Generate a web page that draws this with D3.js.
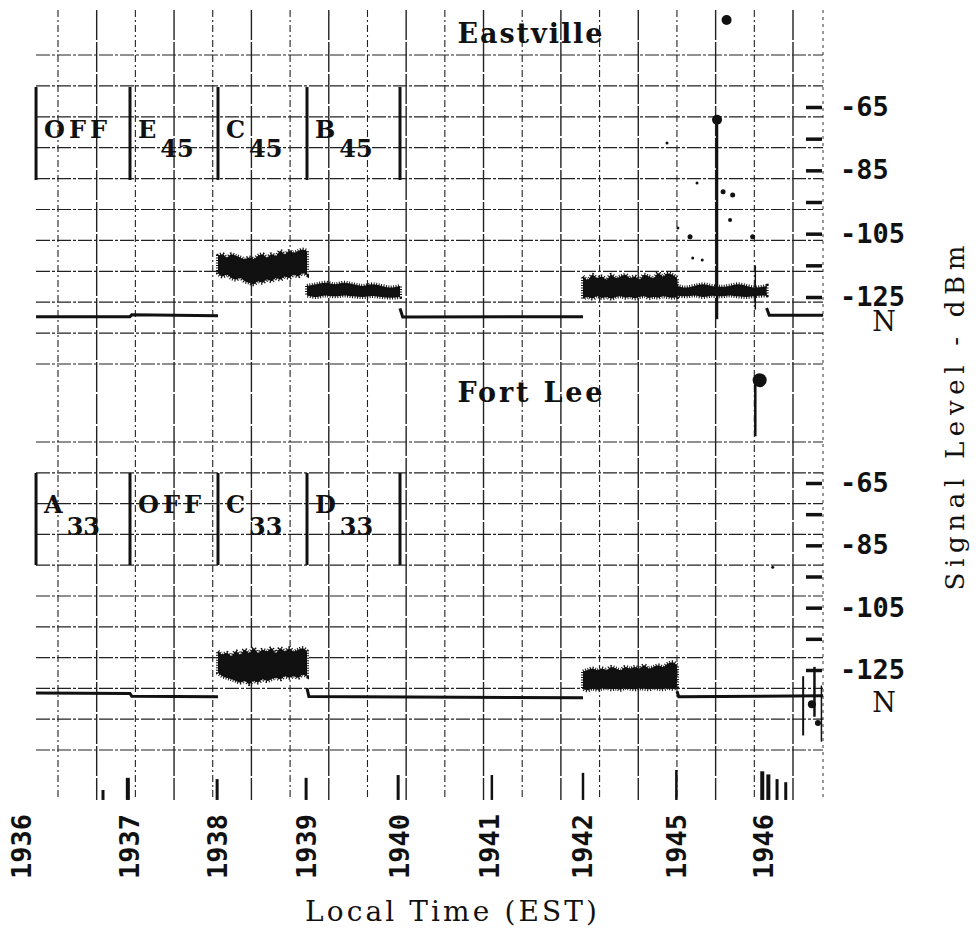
<!DOCTYPE html>
<html>
<head>
<meta charset="utf-8">
<script src="https://d3js.org/d3.v7.min.js"></script>
<style>
  body { margin: 0; background: #fff; }
</style>
</head>
<body>
<div id="chart"></div>
<script>
// time ticks along the bottom (local time, EST) and level ticks on the right
var timeTicks = [1936, 1937, 1938, 1939, 1940, 1941, 1942, 1945, 1946];
var dbTicks = [-65, -75, -85, -95, -105, -115, -125];
var dbLabels = [-65, -85, -105, -125];

// transmitter boxes: boundaries in time and the text in each box
var boxTimes = [1936.13, 1937, 1938, 1939, 1940];
var eastLabels = [["OFF", ""], ["E", "45"], ["C", "45"], ["B", "45"]];
var fortLabels = [["A", "33"], ["OFF", ""], ["C", "33"], ["D", "33"]];

// noise level N (dBm)
var eastNLevel = -131;
var fortNLevel = -133.7;

// noise floor traces [time, dBm]
var eastNoise1 = [[1936.13, -131.2], [1937, -131.2], [1937.02, -130.6], [1938, -130.9]];
var eastNoise2 = [[1940, -128.6], [1940.03, -131.3], [1942, -131.2]];
var eastNoise3 = [[1946.03, -128.5], [1946.06, -130.8], [1946.68, -130.8]];
var fortNoise1 = [[1936.13, -132.4], [1937, -132.5], [1937.02, -133.4], [1938, -133.6]];
var fortNoise2 = [[1939, -130.8], [1939.02, -133.5], [1942, -133.9]];
var fortNoise3 = [[1945, -131.8], [1945.02, -133.6], [1946.68, -133.3]];

// received signal bands [time, top dBm, bottom dBm]
var eastC45 = [
  [1938.00, -112, -117.5], [1938.05, -111.5, -118.5], [1938.10, -112.5, -118], [1938.15, -111.5, -119],
  [1938.20, -112, -119.5], [1938.25, -112.5, -119], [1938.30, -113, -120], [1938.35, -112.5, -120.5],
  [1938.40, -113, -121], [1938.45, -112, -120], [1938.50, -111.5, -120.5], [1938.55, -112.5, -119.5],
  [1938.60, -111.5, -120], [1938.65, -112, -119], [1938.70, -110.5, -119.5], [1938.75, -111.5, -118.5],
  [1938.80, -110.5, -119], [1938.85, -111, -118], [1938.90, -110.5, -118.5], [1938.95, -110, -117.5],
  [1939.00, -110.5, -118]
];
var eastB45 = [
  [1939.0, -121.5, -124.5], [1939.1, -121, -125], [1939.2, -120.5, -124.5], [1939.3, -121, -124.8],
  [1939.4, -120.5, -124.5], [1939.5, -121, -124.8], [1939.6, -121.5, -125], [1939.7, -121, -124.7],
  [1939.8, -121.5, -125], [1939.9, -122, -125.2], [1940.0, -121.5, -125]
];
var east4245 = [
  [1942.00, -118.5, -125.5], [1942.15, -119.5, -125], [1942.30, -118, -125.5], [1942.45, -119, -124.8],
  [1942.60, -118.5, -125.3], [1942.75, -119.5, -125], [1942.90, -118, -125.5], [1943.05, -119, -125],
  [1943.20, -118.5, -124.8], [1943.35, -118, -125.2], [1943.50, -119, -125], [1943.65, -118.5, -125.4],
  [1943.80, -119.5, -125], [1943.95, -118, -124.8], [1944.10, -118.5, -125.3], [1944.25, -119, -125],
  [1944.40, -117.5, -125.2], [1944.55, -118.5, -124.8], [1944.70, -117.5, -125], [1944.85, -118, -125.2],
  [1945.00, -119, -125]
];
var east4546 = [
  [1945.0, -121.5, -124.5], [1945.1, -122, -124.8], [1945.2, -121.5, -124.5], [1945.3, -121, -125],
  [1945.4, -121.5, -124.6], [1945.5, -121.8, -124.8], [1945.6, -121.5, -124.5], [1945.7, -121, -124.8],
  [1945.8, -121.5, -125], [1945.9, -122, -124.7], [1946.03, -121.5, -124.5]
];
var fortC33 = [
  [1938.00, -119, -126], [1938.05, -120, -127], [1938.10, -119.5, -127.5], [1938.15, -120.5, -128],
  [1938.20, -119, -128.5], [1938.25, -120, -129], [1938.30, -118.5, -128.5], [1938.35, -119.5, -129.5],
  [1938.40, -118, -128.5], [1938.45, -119.5, -129], [1938.50, -118.5, -128], [1938.55, -119, -128.5],
  [1938.60, -118, -128], [1938.65, -119.5, -127.5], [1938.70, -118, -128], [1938.75, -119, -127],
  [1938.80, -118, -127.5], [1938.85, -119, -127], [1938.90, -118.5, -127.5], [1938.95, -118, -126.5],
  [1939.00, -119, -127]
];
var fort4245 = [
  [1942.00, -125.5, -131], [1942.15, -125, -131.5], [1942.30, -124.5, -131], [1942.45, -125, -131.3],
  [1942.60, -124.5, -131], [1942.75, -125, -130.8], [1942.90, -124, -131.2], [1943.05, -124.5, -131],
  [1943.20, -125, -131.3], [1943.35, -124, -130.8], [1943.50, -124.5, -131], [1943.65, -124, -131.2],
  [1943.80, -124.5, -130.9], [1943.95, -123.5, -131], [1944.10, -124.5, -131.2], [1944.25, -124, -130.8],
  [1944.40, -123.5, -131], [1944.55, -124, -131.2], [1944.70, -123, -130.8], [1944.85, -122.5, -131],
  [1945.00, -123.5, -130.5]
];

// spikes [time, top dBm, bottom dBm, width] and specks [time, dBm, radius]
var eastSpikes = [[1945.46, -68, -132, 2.5], [1945.9, -115, -129, 1.5]];
var eastSpecks = [
  [1945.46, -69, 5], [1945.57, -37.5, 5], [1945.53, -91.8, 2.5], [1945.64, -92.8, 2.5],
  [1945.61, -100.7, 2], [1945.15, -106, 2.5], [1945.01, -103.2, 1.5], [1945.18, -112.7, 1.5],
  [1945.29, -113.3, 1.5], [1945.87, -106, 2.5], [1944.68, -76.4, 1.5], [1945.23, -89, 1.5]
];
var fortSpikes = [
  [1945.9, -31, -50, 2.5], [1946.45, -127, -146, 2], [1946.58, -124, -140, 2.5], [1946.66, -130, -148, 1.5],
  [1936.75, -163.5, -166.7, 3], [1936.98, -159.6, -166.7, 4], [1937.99, -160, -166.7, 3],
  [1938.99, -159.6, -166.7, 3], [1939.98, -158.7, -166.7, 3], [1941.02, -158.7, -166.7, 2.5],
  [1942.0, -158, -166.7, 2.5], [1944.98, -157.1, -166.7, 2.5], [1945.98, -157.5, -166.7, 4],
  [1946.05, -158.5, -166.7, 4], [1946.15, -160, -166.7, 3], [1946.25, -161, -166.7, 3]
];
var fortSpecks = [[1945.95, -32, 7], [1946.1, -92, 1.5], [1946.55, -136, 4], [1946.62, -142, 3]];

var ink = "#111";

var svg = d3.select("#chart")
  .append("svg")
  .attr("width", 979)
  .attr("height", 930)
  .style("background", "#fff");

// time axis is not linear on the recording, so use a piecewise scale
var x = d3.scaleLinear()
  .domain(timeTicks)
  .range([22, 130, 218, 307, 400, 490, 583, 677, 764]);

// chart paper grid
var paperX = d3.scaleLinear().domain([0, 19]).range([58, 793]);
var paperTop = d3.scaleLinear().domain([0, 10]).range([55, 364]);
var paperLow = d3.scaleLinear().domain([0, 10]).range([442, 750]);
var grid = svg.append("g");
grid.selectAll(".vgrid")
  .data(d3.range(20))
  .enter()
  .append("line")
    .attr("x1", d => paperX(d))
    .attr("x2", d => paperX(d))
    .attr("y1", 10)
    .attr("y2", 800)
    .attr("stroke", "#222")
    .attr("stroke-width", d => d % 2 ? 1.4 : 1.1)
    .attr("stroke-dasharray", d => d % 2 ? "30,2" : "7,3,2,3");
grid.append("line")
  .attr("x1", 823).attr("x2", 823).attr("y1", 10).attr("y2", 800)
  .attr("stroke", "#333").attr("stroke-width", 1).attr("stroke-dasharray", "3,4");
grid.selectAll(".hgrid")
  .data(d3.range(11).map(paperTop).concat(d3.range(11).map(paperLow)))
  .enter()
  .append("line")
    .attr("x1", 36)
    .attr("x2", 823)
    .attr("y1", d => d)
    .attr("y2", d => d)
    .attr("stroke", "#222")
    .attr("stroke-width", 1.2)
    .attr("stroke-dasharray", "14,2,3,2");

var panels = [
  { title: "Eastville", titleY: 43, y: d3.scaleLinear().domain([-65, -125]).range([107, 297]),
    boxTop: 87, boxBottom: 180, textDy: 51, subDy: 19, labels: eastLabels, nLevel: eastNLevel,
    noise: [eastNoise1, eastNoise2, eastNoise3], bands: [eastC45, eastB45, east4245, east4546],
    spikes: eastSpikes, specks: eastSpecks },
  { title: "Fort Lee", titleY: 402, y: d3.scaleLinear().domain([-65, -125]).range([483, 670]),
    boxTop: 473, boxBottom: 565, textDy: 40, subDy: 22, labels: fortLabels, nLevel: fortNLevel,
    noise: [fortNoise1, fortNoise2, fortNoise3], bands: [fortC33, fort4245],
    spikes: fortSpikes, specks: fortSpecks }
];

panels.forEach(function(p) {
  var g = svg.append("g");

  // station name
  g.append("text")
    .attr("x", 530)
    .attr("y", p.titleY)
    .attr("text-anchor", "middle")
    .attr("font-family", "DejaVu Serif")
    .attr("font-weight", "bold")
    .attr("font-size", 27)
    .attr("textLength", 145)
    .attr("fill", ink)
    .text(p.title);

  // transmitter boxes
  g.selectAll(".divider")
    .data(boxTimes)
    .enter()
    .append("line")
      .attr("x1", d => x(d))
      .attr("x2", d => x(d))
      .attr("y1", p.boxTop)
      .attr("y2", p.boxBottom)
      .attr("stroke", ink)
      .attr("stroke-width", 3);
  var lab = g.selectAll(".boxlabel")
    .data(p.labels)
    .enter()
    .append("text")
      .attr("x", (d, i) => x(boxTimes[i]) + 8)
      .attr("y", p.boxTop + p.textDy)
      .attr("font-family", "DejaVu Serif")
      .attr("font-weight", "bold")
      .attr("font-size", 24)
      .attr("fill", ink);
  lab.append("tspan")
    .attr("letter-spacing", d => d[1] ? 0 : 4)
    .text(d => d[0]);
  lab.append("tspan")
    .attr("dx", 4)
    .attr("dy", p.subDy)
    .text(d => d[1]);

  // noise floor
  var line = d3.line().x(d => x(d[0])).y(d => p.y(d[1]));
  g.selectAll(".noise")
    .data(p.noise)
    .enter()
    .append("path")
      .attr("d", line)
      .attr("fill", "none")
      .attr("stroke", ink)
      .attr("stroke-width", 3);

  // signal bands, with a dotted outline for the fuzzy pen edge
  var area = d3.area()
    .x(d => x(d[0]))
    .y0(d => p.y(d[2]))
    .y1(d => p.y(d[1]))
    .curve(d3.curveMonotoneX);
  g.selectAll(".band")
    .data(p.bands)
    .enter()
    .append("path")
      .attr("d", area)
      .attr("fill", ink)
      .attr("stroke", ink)
      .attr("stroke-width", 4)
      .attr("stroke-dasharray", "1,1.5");

  g.selectAll(".spike")
    .data(p.spikes)
    .enter()
    .append("line")
      .attr("x1", d => x(d[0]))
      .attr("x2", d => x(d[0]))
      .attr("y1", d => p.y(d[1]))
      .attr("y2", d => p.y(d[2]))
      .attr("stroke", ink)
      .attr("stroke-width", d => d[3]);
  g.selectAll(".speck")
    .data(p.specks)
    .enter()
    .append("circle")
      .attr("cx", d => x(d[0]))
      .attr("cy", d => p.y(d[1]))
      .attr("r", d => d[2])
      .attr("fill", ink);

  // level scale on the right
  var axis = d3.axisRight(p.y)
    .tickValues(dbTicks)
    .tickSize(16)
    .tickPadding(18)
    .tickFormat(d => dbLabels.includes(d) ? String(d) : "");
  var ag = g.append("g")
    .attr("transform", "translate(806,0)")
    .call(axis);
  ag.select(".domain").remove();
  ag.selectAll("line").attr("stroke", ink).attr("stroke-width", 3.5);
  ag.selectAll("text")
    .attr("font-family", "DejaVu Sans Mono")
    .attr("font-weight", "bold")
    .attr("font-size", 27)
    .attr("fill", ink);

  g.append("text")
    .attr("x", 884)
    .attr("y", p.y(p.nLevel))
    .attr("dy", "0.55em")
    .attr("text-anchor", "middle")
    .attr("font-family", "DejaVu Serif")
    .attr("font-size", 27)
    .attr("fill", ink)
    .text("N");
});

// time labels
svg.selectAll(".xtick")
  .data(timeTicks)
  .enter()
  .append("text")
    .attr("transform", d => `translate(${x(d)},814) rotate(-90)`)
    .attr("text-anchor", "end")
    .attr("dy", "0.35em")
    .attr("font-family", "DejaVu Sans Mono")
    .attr("font-weight", "bold")
    .attr("font-size", 27)
    .attr("fill", ink)
    .text(d => d);

svg.append("text")
  .attr("x", 451)
  .attr("y", 921)
  .attr("text-anchor", "middle")
  .attr("font-family", "DejaVu Serif")
  .attr("font-size", 28)
  .attr("textLength", 292)
  .attr("fill", ink)
  .text("Local Time (EST)");

svg.append("text")
  .attr("transform", "translate(955,418) rotate(-90)")
  .attr("text-anchor", "middle")
  .attr("dy", "0.35em")
  .attr("font-family", "DejaVu Serif")
  .attr("font-size", 26)
  .attr("textLength", 345)
  .attr("fill", ink)
  .text("Signal Level - dBm");
</script>
</body>
</html>
